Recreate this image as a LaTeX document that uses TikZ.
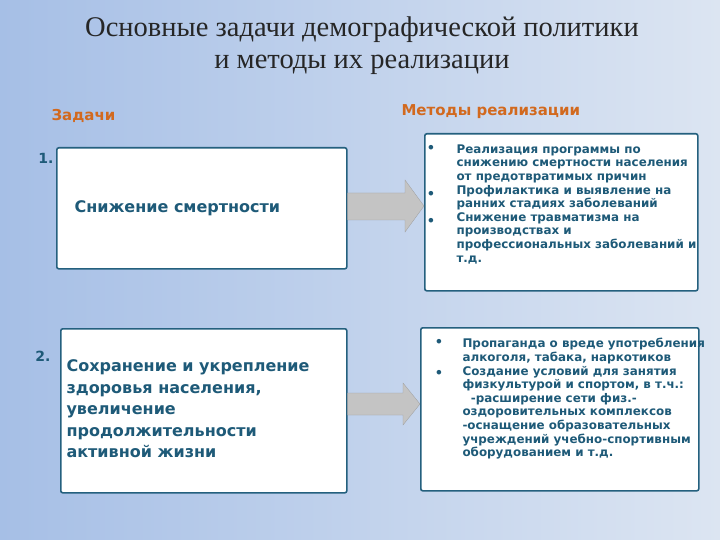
\documentclass[tikz,border=0pt]{standalone}
\usepackage{fontspec}
\setmainfont{Liberation Serif}
\newfontfamily\bodyf{DejaVu Sans}
\definecolor{bgA}{HTML}{A6BFE6}
\definecolor{bgB}{HTML}{DCE5F2}
\definecolor{txt}{HTML}{1E5A78}
\definecolor{org}{HTML}{D2691E}
\definecolor{edge}{HTML}{24607E}
\definecolor{arr}{HTML}{C4C4C4}
\tikzset{
 box/.style={draw=edge, line width=1.6pt, fill=white, rounded corners=2pt, inner sep=0pt},
 lbl/.style={text=txt, font=\bodyf\bfseries, align=left, anchor=north west},
 hdr/.style={text=org, font=\bodyf\bfseries\fontsize{15}{18}\selectfont, anchor=west},
 fat/.style={fill=arr, draw=arr!80!black, line width=0.3pt},
}
\begin{document}
\begin{tikzpicture}[x=1pt,y=-1pt]
\shade[left color=bgA, right color=bgB] (0,0) rectangle (720,540);
\useasboundingbox (0,0) rectangle (720,540);
\node[font=\fontsize{28.5}{32}\selectfont, align=center, text=black!85] (title) at (362,46) {Основные задачи демографической политики\\и методы их реализации};
\node[hdr] (h1) at (48,116) {Задачи};
\node[hdr] (h2) at (398,112) {Методы реализации};
\node[box, minimum width=290pt, minimum height=121pt, anchor=north west] (t1) at (56,147) {};
\node[box, minimum width=286pt, minimum height=164pt, anchor=north west] (t2) at (60,328) {};
\node[box, minimum width=273pt, minimum height=157pt, anchor=north west] (m1) at (424,133) {};
\node[box, minimum width=278pt, minimum height=163pt, anchor=north west] (m2) at (420,327) {};
\node[text=txt, font=\bodyf\bfseries\fontsize{14}{16}\selectfont] (n1) at (46,158) {1.};
\node[text=txt, font=\bodyf\bfseries\fontsize{14}{16}\selectfont] (n2) at (43,356) {2.};
\node[lbl, font=\bodyf\bfseries\fontsize{16}{18}\selectfont, anchor=west] (l1) at (71,208) {Снижение смертности};
\node[lbl, font=\bodyf\bfseries\fontsize{16}{21.6}\selectfont] (l2) at (63,356) {Сохранение и укрепление\\здоровья населения,\\увеличение\\продолжительности\\активной жизни};
\draw[fat] (t1.east |- 0,193) -- (405,193) -- (405,180) -- (424,206) -- (405,232) -- (405,220) -- (t1.east |- 0,220) -- cycle;
\draw[fat] (t2.east |- 0,393) -- (403,393) -- (403,383) -- (420,404) -- (403,425) -- (403,415) -- (t2.east |- 0,415) -- cycle;
\node[lbl, font=\bodyf\bfseries\fontsize{11.9}{13.6}\selectfont] (r1) at (453,141) {Реализация программы по\\снижению смертности населения\\от предотвратимых причин\\Профилактика и выявление на\\ранних стадиях заболеваний\\Снижение травматизма на\\производствах и\\профессиональных заболеваний и\\т.д.};
\node[lbl, font=\bodyf\bfseries\fontsize{11.9}{13.6}\selectfont] (r2) at (459,335) {Пропаганда о вреде употребления\\алкоголя, табака, наркотиков\\Создание условий для занятия\\физкультурой и спортом, в т.ч.:\\\ \ -расширение сети физ.-\\оздоровительных комплексов\\-оснащение образовательных\\учреждений учебно-спортивным\\оборудованием и т.д.};
\foreach \y/\n in {149/b1,195/b2,222/b3} \node[text=txt, font=\bodyf\bfseries\fontsize{13}{13}\selectfont] (\n) at (431,\y) {•};
\foreach \y/\n in {343/c1,374/c2} \node[text=txt, font=\bodyf\bfseries\fontsize{13}{13}\selectfont] (\n) at (439,\y) {•};
\end{tikzpicture}
\end{document}
